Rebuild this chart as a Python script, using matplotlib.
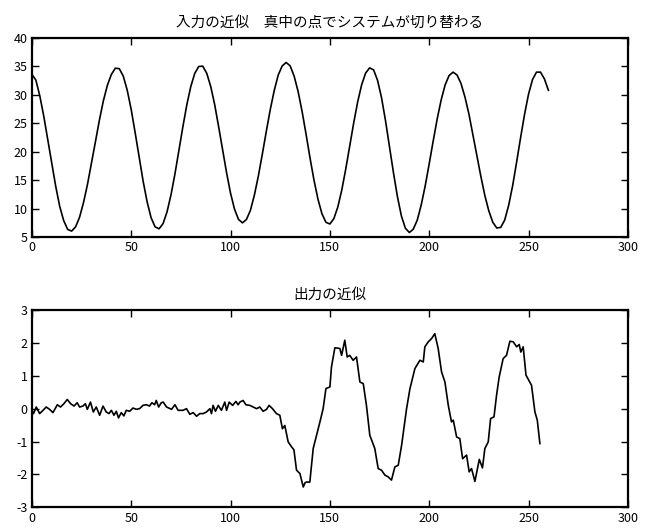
import matplotlib
matplotlib.use('Agg')
import matplotlib.pyplot as plt

plt.rcParams['font.family'] = ['Noto Sans CJK JP', 'DejaVu Sans']
plt.rcParams['axes.unicode_minus'] = False

''' input approximation (every 2 samples) '''
x_in = list(range(0, 262, 2))
y_in = [33.6, 32.6, 29.8, 26.2, 22.1, 17.9, 13.9, 10.4, 7.9, 6.35, 6.05,
        6.8, 8.5, 11.1, 14.3, 18.0, 21.8, 25.6, 29.0, 31.7, 33.6, 34.7,
        34.6, 33.3, 30.8, 27.4, 23.3, 19.0, 14.8, 11.2, 8.4, 6.8, 6.45,
        7.35, 9.4, 12.4, 16.1, 20.3, 24.4, 28.3, 31.5, 33.8, 35.0,
        35.05, 33.8, 31.5, 28.3, 24.4, 20.3, 16.3, 12.7, 9.9, 8.1, 7.5,
        8.1, 9.7, 12.4, 15.75, 19.6, 23.6, 27.45, 30.8, 33.5, 35.1, 35.7,
        35.1, 33.3, 30.6, 27.1, 23.1, 18.9, 15.0, 11.65, 9.1, 7.6, 7.3,
        8.25, 10.3, 13.3, 17.0, 21.05, 25.1, 28.8, 31.8, 33.85, 34.75,
        34.4, 32.55, 29.5, 25.45, 20.9, 16.3, 12.1, 8.7, 6.55, 5.8,
        6.4, 8.0, 10.7, 14.05, 17.9, 21.9, 25.75, 29.1, 31.75, 33.4, 34.0,
        33.5, 32.0, 29.6, 26.6, 23.0, 19.3, 15.65, 12.3, 9.6, 7.6, 6.6,
        6.7, 8.0, 10.6, 14.05, 18.2, 22.5, 26.6, 30.15, 32.7, 34.0,
        34.0, 32.8, 30.8]

''' output approximation '''
x_out = [0.0, 0.8, 2.2, 3.9, 5.6, 7.2, 8.9, 10.6, 12.8, 14.4, 16.1, 17.8, 19.5,
         21.2, 22.8, 24.0, 25.7, 26.9, 27.9, 29.5, 30.9, 32.4, 34.1, 35.8, 37.4,
         38.8, 40.0, 41.3, 42.5, 43.6, 45.0, 46.3, 47.5, 49.2, 50.9, 52.5, 54.2,
         55.9, 57.6, 59.2, 60.4, 61.8, 62.6, 63.8, 65.1, 66.1, 67.8, 70.3, 72.0,
         73.6, 76.1, 77.8, 79.5, 81.2, 82.9, 84.5, 86.2, 87.9, 89.6, 90.4, 91.2,
         92.4, 93.8, 95.4, 97.1, 98.0, 99.3, 101.0, 102.7, 103.8, 104.7, 106.3,
         107.7, 109.7, 111.4, 113.1, 114.7, 116.4, 118.1, 119.4, 121.1, 123.1,
         124.8, 126.1, 127.3, 129.0, 130.7, 131.9, 133.2, 134.9, 136.6, 137.5,
         138.2, 139.9, 141.6, 143.3, 145.0, 146.6, 148.0, 150.0, 150.8, 152.5,
         155.0, 155.9, 157.5, 158.7, 160.0, 161.7, 163.4, 165.1, 166.8, 168.4,
         170.1, 172.6, 174.3, 176.0, 177.7, 179.3, 181.0, 182.7, 184.4, 186.1,
         188.6, 190.3, 192.8, 195.3, 197.0, 197.8, 199.5, 201.2, 202.8, 204.5,
         206.2, 207.9, 209.6, 211.2, 212.1, 213.8, 215.4, 216.8, 218.8, 220.1,
         221.3, 223.0, 225.2, 226.8, 228.0, 229.7, 230.9, 232.6, 233.9, 235.2,
         237.2, 238.9, 240.6, 242.3, 244.0, 245.3, 246.1, 247.3, 248.7, 251.5,
         253.2, 254.4, 255.7]
y_out = [-0.05, -0.15, 0.05, -0.15, -0.05, 0.05, -0.02, -0.12, 0.12, 0.05, 0.15,
         0.28, 0.15, 0.08, 0.18, 0.05, 0.08, 0.15, -0.02, 0.2, -0.1, 0.05, -0.2,
         0.08, -0.1, -0.15, -0.05, -0.2, -0.08, -0.28, -0.12, -0.22, -0.05, -0.08,
         0.02, -0.02, 0.0, 0.1, 0.12, 0.08, 0.18, 0.12, 0.25, 0.05, 0.18, 0.2,
         0.05, -0.02, 0.12, -0.05, -0.05, 0.0, -0.17, -0.12, -0.23, -0.15, -0.15,
         -0.1, 0.0, -0.15, 0.1, -0.08, 0.1, -0.05, 0.2, -0.05, 0.2, 0.1, 0.22,
         0.12, 0.2, 0.25, 0.12, 0.1, 0.05, 0.0, 0.05, -0.08, -0.02, 0.1, 0.0,
         -0.15, -0.2, -0.61, -0.51, -1.01, -1.16, -1.25, -1.87, -1.97, -2.38,
         -2.25, -2.23, -2.23, -1.21, -0.81, -0.40, 0.0, 0.61, 0.66, 1.27, 1.85,
         1.83, 1.62, 2.08, 1.57, 1.62, 1.47, 1.57, 0.81, 0.76, 0.10, -0.81,
         -1.21, -1.82, -1.87, -2.02, -2.07, -2.17, -1.77, -1.72, -1.11, 0.0,
         0.61, 1.22, 1.47, 1.42, 1.88, 2.03, 2.13, 2.28, 1.83, 1.12, 0.81, 0.10,
         -0.40, -0.35, -0.86, -0.91, -1.52, -1.41, -1.92, -1.82, -2.21, -1.54,
         -1.80, -1.21, -1.01, -0.30, -0.25, 0.41, 0.96, 1.52, 1.62, 2.05, 2.03,
         1.88, 1.95, 1.72, 1.88, 1.02, 0.71, -0.10, -0.35, -1.06]

title_in = '入力の近似\u3000真中の点でシステムが切り替わる'
title_out = '出力の近似'


def StyleAxes(ax):
    ax.tick_params(direction='in', top=True, right=True, length=5, width=1,
                   labelsize=9, pad=3)
    for s in ax.spines.values():
        s.set_linewidth(1.6)


def MultiplePlot():
    fig = plt.figure(figsize=(6.51, 5.28), dpi=100)

    ax1 = fig.add_axes([0.049, 0.551, 0.9155, 0.377])
    ax1.plot(x_in, y_in, color='black', linewidth=1.2)
    ax1.set_xlim(0, 300)
    ax1.set_ylim(5, 40)
    ax1.set_xticks([0, 50, 100, 150, 200, 250, 300])
    ax1.set_yticks([5, 10, 15, 20, 25, 30, 35, 40])
    ax1.set_title(title_in, fontsize=10.5, pad=8)
    StyleAxes(ax1)

    ax2 = fig.add_axes([0.049, 0.039, 0.9155, 0.374])
    ax2.plot(x_out, y_out, color='black', linewidth=1.2)
    ax2.set_xlim(0, 300)
    ax2.set_ylim(-3, 3)
    ax2.set_xticks([0, 50, 100, 150, 200, 250, 300])
    ax2.set_yticks([-3, -2, -1, 0, 1, 2, 3])
    ax2.set_title(title_out, fontsize=10.5, pad=8)
    StyleAxes(ax2)

    fig.savefig('out.png', dpi=100)
    return


MultiplePlot()
